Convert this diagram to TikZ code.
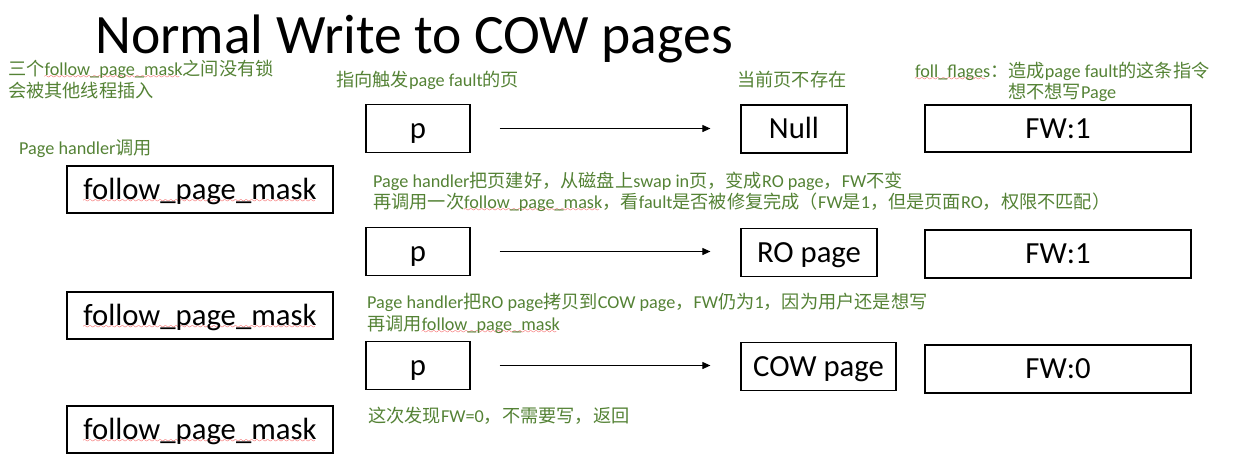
\documentclass[tikz,border=0pt]{standalone}
\usepackage{fontspec}
\setmainfont{Carlito}
\newfontfamily\cjk{Noto Sans CJK SC}
\usepackage{xcolor}
\usepackage{tikz}
\usetikzlibrary{positioning, calc, arrows.meta}

\definecolor{notegreen}{RGB}{84,130,53}
\definecolor{spellred}{RGB}{240,20,20}

% CJK run inside Latin text
\newcommand\zh[1]{{\cjk #1}}
% red spell-check wave under a word
\font\wavefont=lasy7
\newcommand\spellwave[1]{\setbox0\hbox{#1}\rlap{\lower3pt\hbox to\wd0{\color{spellred}\leaders\hbox{\wavefont\char58}\hfill}}\box0}

\begin{document}
\begin{tikzpicture}[x=1pt, y=-1pt,
    box/.style={draw, line width=1.2pt, inner sep=0pt, text height=23pt, text depth=4pt, font=\fontsize{30.7}{34}\selectfont},
    note/.style={anchor=base west, inner sep=0pt, text=notegreen, font=\fontsize{18.2}{21}\selectfont},
    flow/.style={-{Triangle[length=8pt, width=7pt]}, line width=1pt, shorten <=29pt, shorten >=30pt}]

    \useasboundingbox (0,0) rectangle (1233,467);

    % Title
    \node[anchor=base west, inner sep=0pt, font=\fontsize{55.6}{60}\selectfont] (title) at (95,53) {Normal Write to COW pages};

    % Notes on the left
    \node[note] (lockA) at (8,75) {\zh{三个}\spellwave{follow\_page\_mask}\zh{之间没有锁}};
    \node[note] (lockB) at (8,97) {\zh{会被其他线程插入}};
    \node[note] (caller) at (19,154) {Page handler\zh{调用}};

    % The three calls
    \node[box, minimum width=266pt, minimum height=47pt] (fpmA) at (200,189.5) {\spellwave{follow\_page\_mask}};
    \node[box, minimum width=266pt, minimum height=47pt] (fpmB) at (200,315.5) {\spellwave{follow\_page\_mask}};
    \node[box, minimum width=266pt, minimum height=47pt] (fpmC) at (200,429.5) {\spellwave{follow\_page\_mask}};

    % Column headings
    \node[note] (ptrnote) at (336,86) {\zh{指向触发}page fault\zh{的页}};
    \node[note] (nonote) at (737,86) {\zh{当前页不存在}};
    \node[note] (flagA) at (915,77) {\spellwave{foll\_flages}\zh{：造成}page fault\zh{的这条指令}};
    \node[note] (flagB) at (1008,98) {\zh{想不想写}Page};

    % Row 1: page not present
    \node[box, minimum width=104pt, minimum height=48pt] (pA) at (418,128.5) {p};
    \node[box, minimum width=106pt, minimum height=48pt] (null) at (794,129) {Null};
    \node[box, minimum width=266pt, minimum height=47pt] (fwA) at (1058,128.5) {FW:1};
    \draw[flow] (pA) -- (pA -| null.west);

    \node[note] (swapA) at (373,187) {Page handler\zh{把页建好，从磁盘上}swap in\zh{页，变成}RO page\zh{，}FW\zh{不变}};
    \node[note] (swapB) at (373,208) {\zh{再调用一次}\spellwave{follow\_page\_mask}\zh{，看}fault\zh{是否被修复完成（}FW\zh{是}1\zh{，但是页面}RO\zh{，权限不匹配）}};

    % Row 2: read-only page
    \node[box, minimum width=104pt, minimum height=48pt] (pB) at (418,251.5) {p};
    \node[box, minimum width=136pt, minimum height=48pt] (ro) at (809,252.5) {RO page};
    \node[box, minimum width=266pt, minimum height=48pt] (fwB) at (1058,254) {FW:1};
    \draw[flow] (pB) -- (pB -| ro.west);

    \node[note] (copyA) at (367,308) {Page handler\zh{把}RO page\zh{拷贝到}COW page\zh{，}FW\zh{仍为}1\zh{，因为用户还是想写}};
    \node[note] (copyB) at (367,330) {\zh{再调用}\spellwave{follow\_page\_mask}};

    % Row 3: COW page
    \node[box, minimum width=104pt, minimum height=48pt] (pC) at (418,365.5) {p};
    \node[box, minimum width=155pt, minimum height=48pt] (cow) at (818.5,366.5) {COW page};
    \node[box, minimum width=266pt, minimum height=48pt] (fwC) at (1058,369) {FW:0};
    \draw[flow] (pC) -- (pC -| cow.west);

    \node[note] (doneA) at (368,422) {\zh{这次发现}FW=0\zh{，不需要写，返回}};

\end{tikzpicture}
\end{document}
